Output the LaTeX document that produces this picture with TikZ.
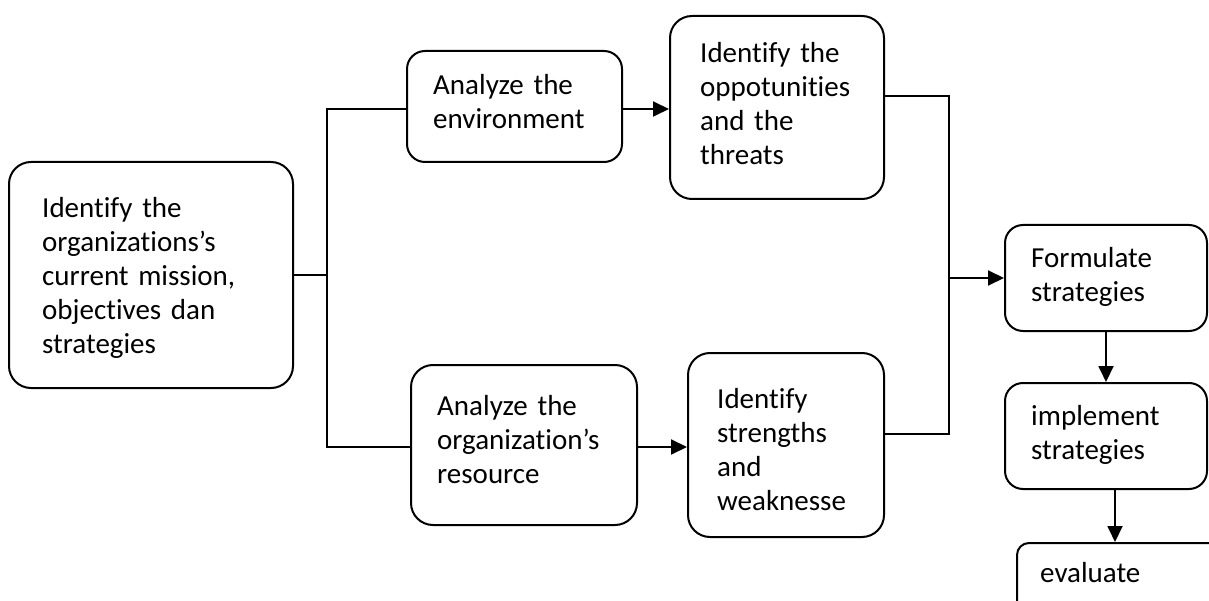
\documentclass[tikz,border=0pt]{standalone}
\usepackage{fontspec}
\setmainfont{Carlito}[Ligatures=NoCommon]
\usetikzlibrary{arrows.meta}
\begin{document}
\begin{tikzpicture}[x=1pt,y=-1pt,
  box/.style={draw, line width=2pt, rounded corners=18pt, inner sep=0pt},
  txt/.style={anchor=base west, inner sep=0pt, text width=290pt, align=left,
              font=\fontsize{29}{34}\selectfont},
  wire/.style={line width=1.9pt},
  flow/.style={wire, -{Triangle[length=16pt,width=15pt]}}]
\useasboundingbox (0,0) rectangle (1209,601);
\clip (0,0) rectangle (1209,601);

% boxes
\node[box, rounded corners=22pt, minimum width=284pt, minimum height=226pt] (mis) at (151,275) {};
\node[box, minimum width=215pt, minimum height=111pt] (env) at (514.5,106.5) {};
\node[box, rounded corners=22pt, minimum width=214pt, minimum height=183pt] (opp) at (777,107.5) {};
\node[box, rounded corners=22pt, minimum width=226pt, minimum height=160pt] (org) at (524,445) {};
\node[box, rounded corners=22pt, minimum width=196pt, minimum height=184pt] (str) at (786,445) {};
\node[box, minimum width=202pt, minimum height=106pt] (form) at (1106,278) {};
\node[box, minimum width=202pt, minimum height=106pt] (impl) at (1106,436) {};
\node[box, rounded corners=12pt, minimum width=233pt, minimum height=107pt] (eval) at (1133.5,596.5) {};

% texts
\node[txt] (tmis) at (42,218) {Identify the\\organizations’s\\current mission,\\objectives dan\\strategies};
\node[txt] (tenv) at (433,95) {Analyze the\\environment};
\node[txt] (topp) at (700,63) {Identify the\\oppotunities\\and the\\threats};
\node[txt] (torg) at (437,415) {Analyze the\\organization’s\\resource};
\node[txt] (tstr) at (717,408) {Identify\\strengths\\and\\weaknesse};
\node[txt] (tform) at (1031,268) {Formulate\\strategies};
\node[txt] (timpl) at (1031,425) {implement\\strategies};
\node[txt] (teval) at (1040,582) {evaluate};

% branch from the mission box
\coordinate (s1top) at (327,109);
\coordinate (s1bot) at (327,447);
\draw[wire] (mis.east) -- (mis.east -| s1top);
\draw[wire] (env.west |- s1top) -- (s1top) -- (s1bot) -- (org.west |- s1bot);
\draw[flow] (env.east |- s1top) -- (opp.west |- s1top);
\draw[flow] (org.east |- s1bot) -- (str.west |- s1bot);

% merge into formulation
\coordinate (s2top) at (949,96);
\coordinate (s2bot) at (949,434);
\draw[wire] (opp.east |- s2top) -- (s2top) -- (s2bot) -- (str.east |- s2bot);
\draw[flow] (form.west -| s2top) -- (form.west);
\draw[flow] (form.south) -- (impl.north);
\coordinate (ex) at (1115,0);
\draw[flow] (impl.south -| ex) -- (eval.north -| ex);
\end{tikzpicture}
\end{document}
